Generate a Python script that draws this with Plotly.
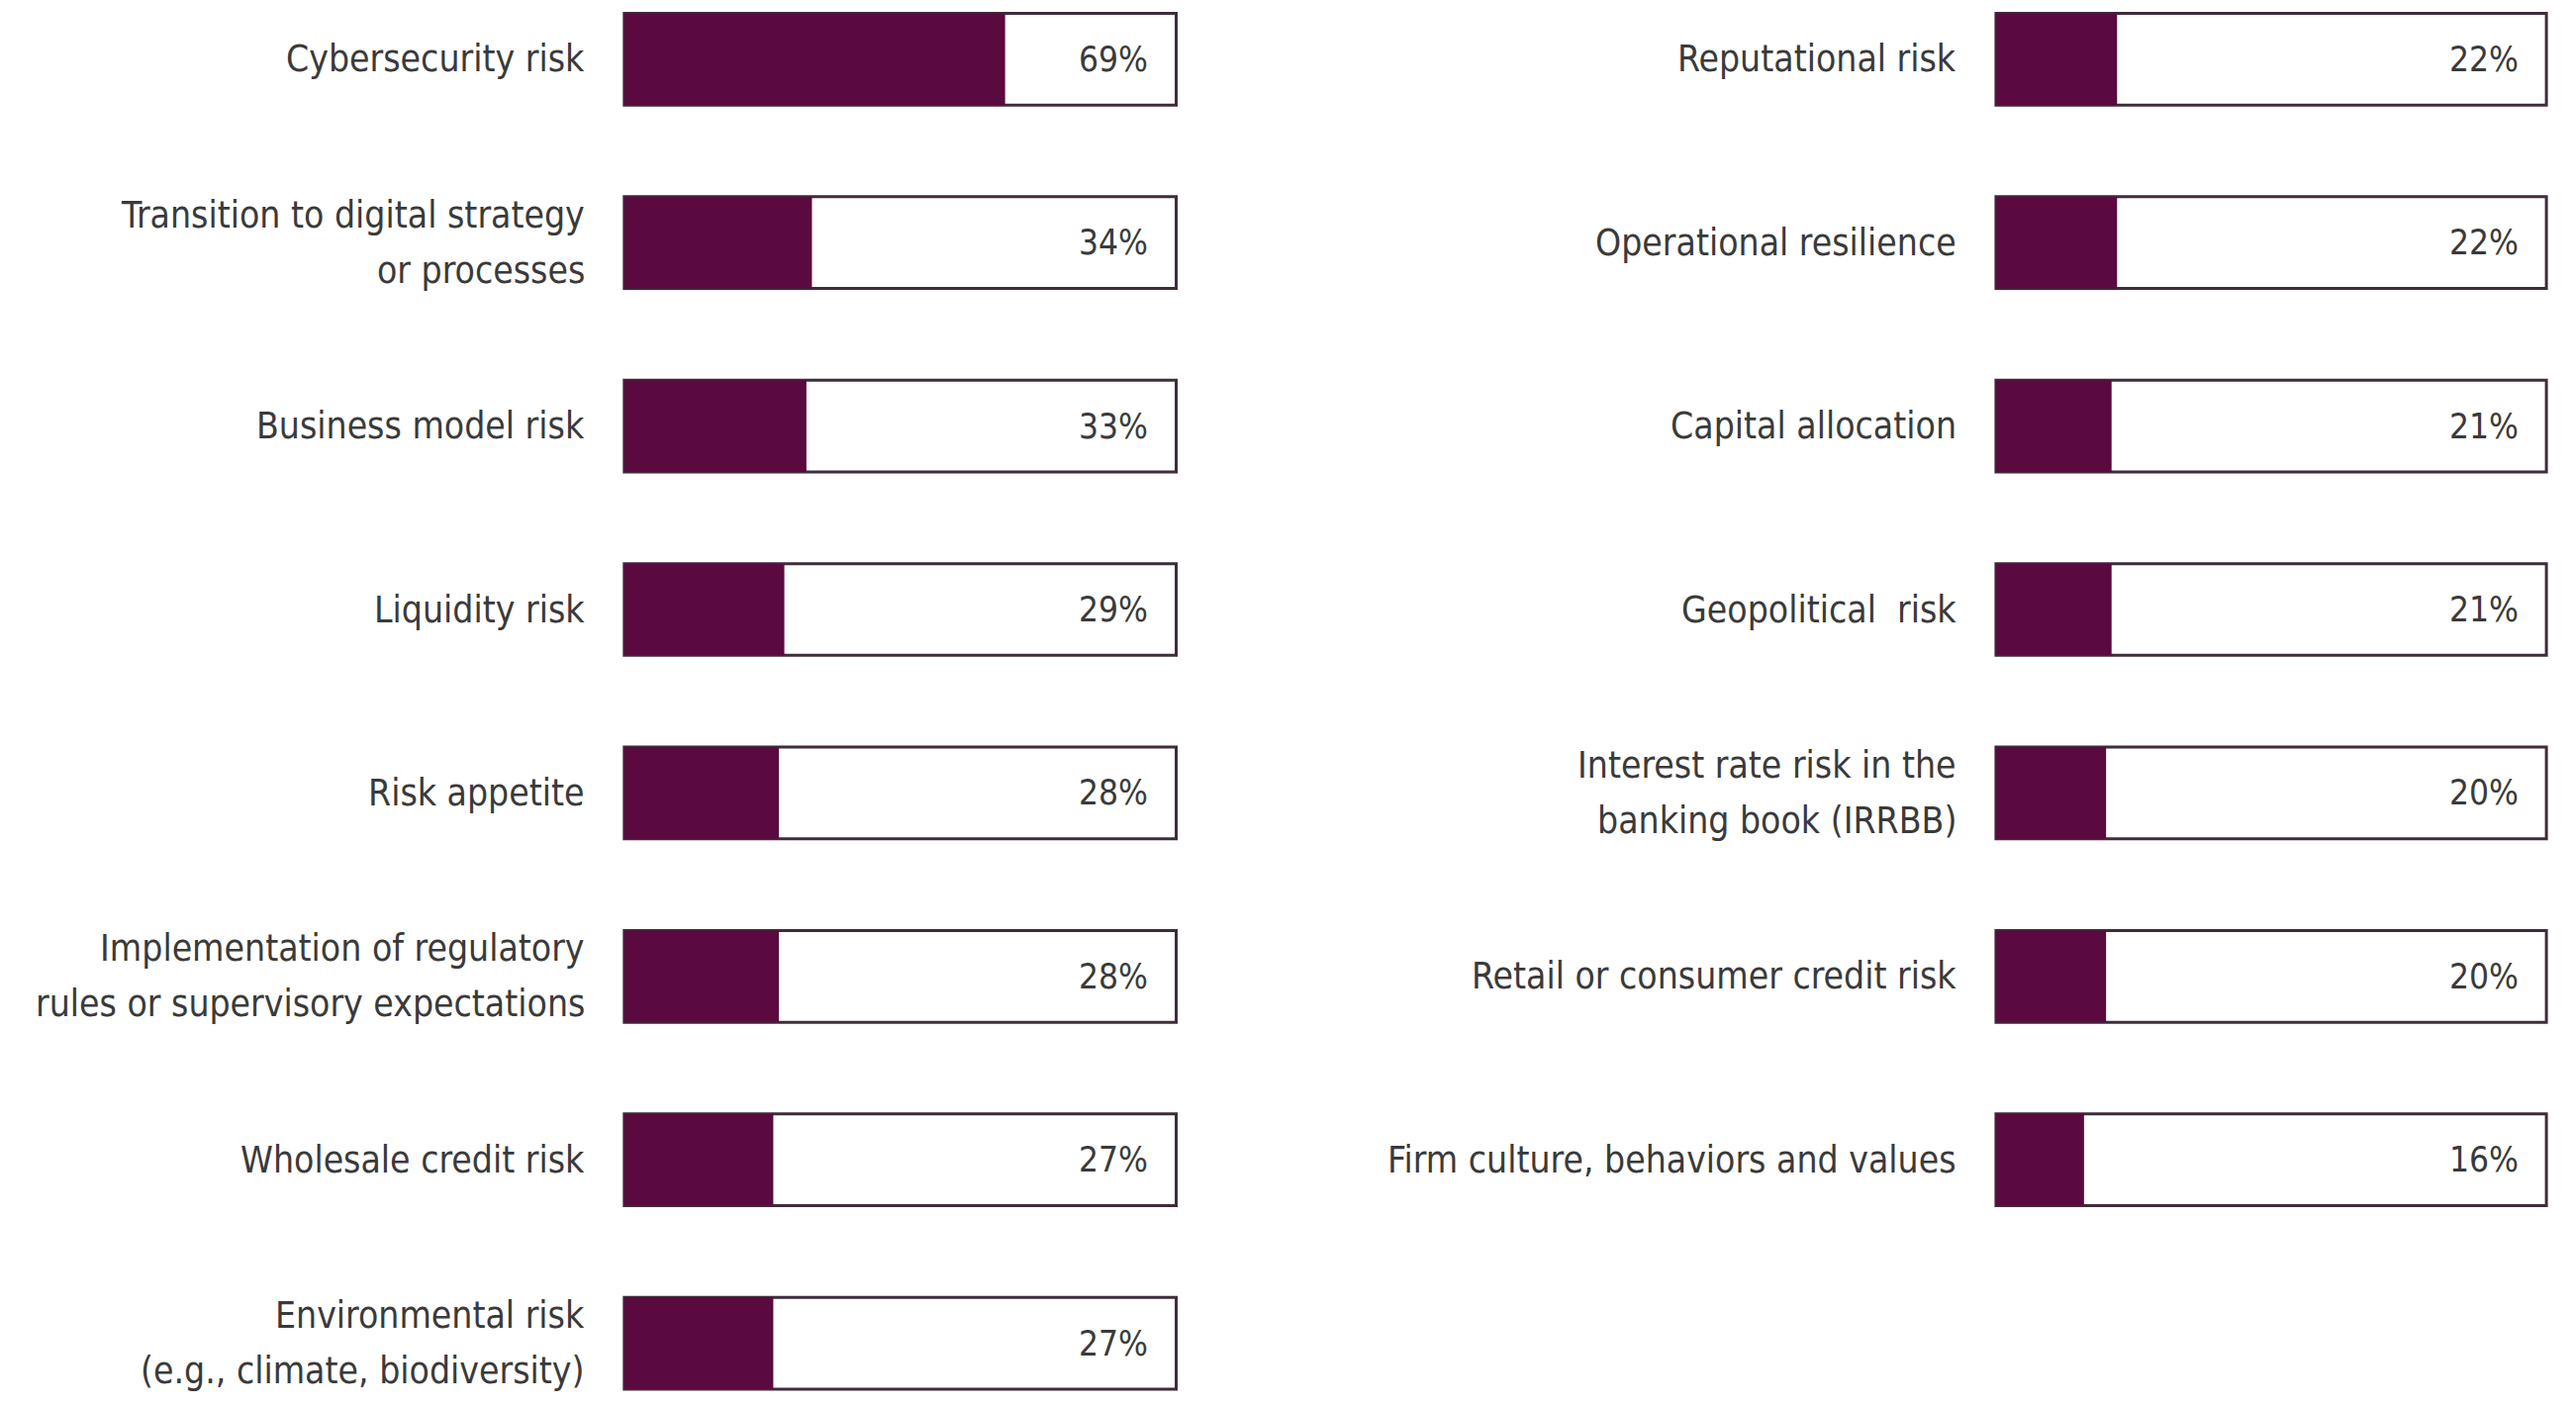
import plotly.graph_objects as go

left_categories = [
    "Cybersecurity risk",
    "Transition to digital strategy<br>or processes",
    "Business model risk",
    "Liquidity risk",
    "Risk appetite",
    "Implementation of regulatory<br>rules or supervisory expectations",
    "Wholesale credit risk",
    "Environmental risk<br>(e.g., climate, biodiversity)",
]
left_values = [69, 34, 33, 29, 28, 28, 27, 27]

right_categories = [
    "Reputational risk",
    "Operational resilience",
    "Capital allocation",
    "Geopolitical  risk",
    "Interest rate risk in the<br>banking book (IRRBB)",
    "Retail or consumer credit risk",
    "Firm culture, behaviors and values",
]
right_values = [22, 22, 21, 21, 20, 20, 16]

FULL = 100
FILL = "#5a0a3e"
OUTLINE = "#3e2c3a"
TEXT = "#3a3a3a"
LABEL_FONT = dict(family="DejaVu Sans Condensed, Liberation Sans, Arial, sans-serif", size=37, color=TEXT)
PCT_FONT = dict(family="DejaVu Sans Condensed, Liberation Sans, Arial, sans-serif",
                size=35, color=TEXT)

fig = go.Figure()

panels = [
    (left_categories, left_values, "x", "y"),
    (right_categories, right_values, "x2", "y2"),
]

for cats, vals, xa, ya in panels:
    fig.add_trace(go.Bar(
        y=cats, x=[FULL] * len(cats), orientation="h",
        marker=dict(color="white", line=dict(color=OUTLINE, width=3)),
        width=0.5, xaxis=xa, yaxis=ya, hoverinfo="skip", showlegend=False,
    ))
    fig.add_trace(go.Bar(
        y=cats, x=vals, orientation="h",
        marker=dict(color=FILL, line=dict(width=0)),
        width=0.5, xaxis=xa, yaxis=ya, showlegend=False,
    ))
    for c, v in zip(cats, vals):
        fig.add_annotation(
            x=95.3, y=c, xref=xa, yref=ya, text=f"{v}%",
            showarrow=False, xanchor="right", yanchor="middle",
            font=PCT_FONT,
        )
        lines = c.split("<br>")
        n = len(lines)
        for k, line in enumerate(lines):
            fig.add_annotation(
                x=0, y=c, xref=f"{xa} domain", yref=ya, text=line,
                showarrow=False, xanchor="right", yanchor="middle",
                xshift=-35, yshift=((n - 1) / 2 - k) * 56,
                font=LABEL_FONT,
            )

yrange = [7.385, -0.2794]
common_x = dict(range=[-0.5, 100.5], showgrid=False, zeroline=False,
                showticklabels=False, showline=False, fixedrange=True)
common_y = dict(range=yrange, showgrid=False, zeroline=False,
                showticklabels=False, showline=False, type="category",
                domain=[0, 1])

fig.update_layout(
    width=2603, height=1421,
    margin=dict(l=0, r=0, t=0, b=0),
    paper_bgcolor="white", plot_bgcolor="white",
    barmode="overlay",
    xaxis=dict(domain=[0.2382, 0.4546], anchor="y", **common_x),
    xaxis2=dict(domain=[0.7707, 0.9865], anchor="y2", **common_x),
    yaxis=dict(anchor="x", categoryarray=left_categories, **common_y),
    yaxis2=dict(anchor="x2", categoryarray=right_categories, **common_y),
)

fig.write_html("out.html")
